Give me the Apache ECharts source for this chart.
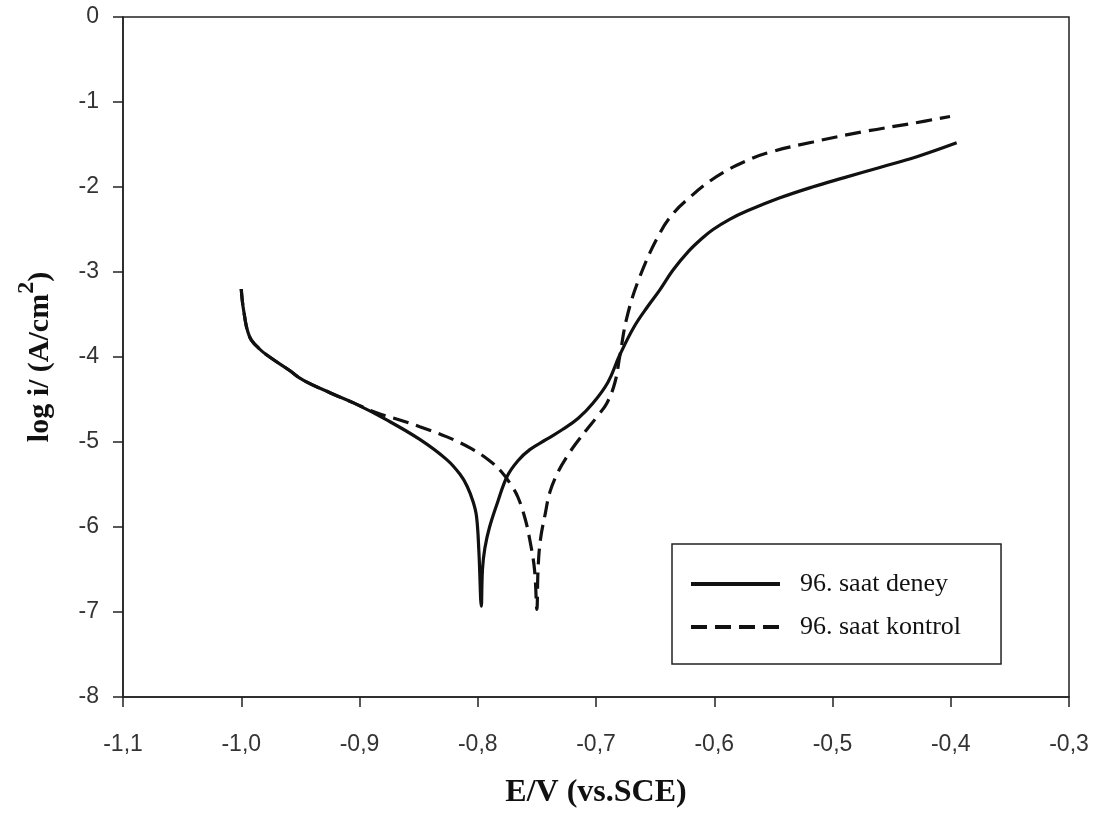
<!DOCTYPE html>
<html>
<head>
<meta charset="utf-8">
<script src="https://cdn.jsdelivr.net/npm/echarts@6/dist/echarts.min.js"></script>
<style>
  html, body { margin: 0; padding: 0; background: #fff; }
  #chart { width: 1098px; height: 814px; }
</style>
</head>
<body>
<div id="chart"></div>
<script>
// Polarization curves: potential E (V vs. SCE) against log current density
const deneyE = [-1.000, -0.998, -0.993, -0.985, -0.976, -0.960, -0.948, -0.925, -0.905, -0.877,
  -0.849, -0.826, -0.815, -0.809, -0.804, -0.801, -0.799, -0.797,
  -0.796, -0.794, -0.790, -0.783, -0.775, -0.766, -0.756, -0.742, -0.728, -0.715, -0.703, -0.690,
  -0.680, -0.668, -0.656, -0.646, -0.635, -0.622, -0.610, -0.601, -0.587, -0.572, -0.545, -0.517,
  -0.490, -0.460, -0.430, -0.395];
const deneyLogI = [-3.20, -3.45, -3.76, -3.90, -4.00, -4.15, -4.27, -4.42, -4.54, -4.74,
  -4.97, -5.21, -5.38, -5.52, -5.70, -5.88, -6.30, -6.93,
  -6.50, -6.25, -6.00, -5.70, -5.40, -5.22, -5.09, -4.97, -4.85, -4.72, -4.55, -4.30,
  -3.98, -3.65, -3.40, -3.21, -2.98, -2.76, -2.60, -2.50, -2.38, -2.28, -2.13, -2.00,
  -1.89, -1.77, -1.65, -1.48];

const kontrolE = [-1.000, -0.998, -0.993, -0.985, -0.976, -0.960, -0.948, -0.925, -0.905, -0.885,
  -0.866, -0.849, -0.826, -0.805, -0.790, -0.780, -0.772, -0.766, -0.760, -0.756, -0.752, -0.750,
  -0.749, -0.747, -0.743, -0.739, -0.732, -0.7245, -0.716, -0.7076, -0.699, -0.6907, -0.684, -0.680,
  -0.6738, -0.6628, -0.6459, -0.634, -0.6205, -0.6076, -0.5926, -0.574, -0.5554, -0.5165, -0.4742,
  -0.432, -0.4006];
const kontrolLogI = [-3.20, -3.45, -3.76, -3.90, -4.00, -4.15, -4.27, -4.42, -4.54, -4.66,
  -4.74, -4.82, -4.94, -5.08, -5.22, -5.35, -5.50, -5.65, -5.90, -6.15, -6.50, -6.97,
  -6.50, -6.15, -5.85, -5.59, -5.35, -5.17, -5.00, -4.85, -4.70, -4.54, -4.30, -4.00,
  -3.53, -3.05, -2.54, -2.30, -2.12, -1.97, -1.83, -1.70, -1.60, -1.47, -1.35,
  -1.25, -1.17];

const seriesNames = ['96. saat deney', '96. saat kontrol'];
const xTitle = 'E/V (vs.SCE)';

const zip = (xs, ys) => xs.map((x, i) => [x, ys[i]]);

const chart = echarts.init(document.getElementById('chart'), null, { renderer: 'canvas' });

const tickFont = { fontFamily: '"Liberation Sans", Arial, sans-serif', fontSize: 23, color: '#333' };
const serif = '"Liberation Serif", "Times New Roman", serif';
const lineColor = '#111';

chart.setOption({
  animation: false,
  backgroundColor: '#fff',
  grid: {
    left: 123, right: 29, top: 17, bottom: 116,
    show: true, borderColor: '#222', borderWidth: 1.5, backgroundColor: 'transparent'
  },
  xAxis: {
    type: 'value', min: -1.1, max: -0.3, interval: 0.1,
    name: xTitle, nameLocation: 'middle', nameGap: 80,
    nameTextStyle: { fontFamily: serif, fontWeight: 'bold', fontSize: 32, color: '#111' },
    axisLine: { show: true, onZero: false, lineStyle: { color: '#222', width: 1.5 } },
    axisTick: { show: true, inside: false, length: 10, lineStyle: { color: '#222', width: 1.5 } },
    axisLabel: Object.assign({ margin: 36, formatter: v => v.toFixed(1).replace('.', ',') }, tickFont),
    splitLine: { show: false }
  },
  yAxis: {
    type: 'value', min: -8, max: 0, interval: 1,
    name: '{a|log i/ (A/cm}{s|2}{a|)}', nameLocation: 'middle', nameGap: 68,
    nameTextStyle: {
      rich: {
        a: { fontFamily: serif, fontWeight: 'bold', fontSize: 30, color: '#111', lineHeight: 40, verticalAlign: 'bottom' },
        s: { fontFamily: serif, fontWeight: 'bold', fontSize: 24, color: '#111', lineHeight: 40, verticalAlign: 'top' }
      }
    },
    axisLine: { show: true, onZero: false, lineStyle: { color: '#222', width: 1.5 } },
    axisTick: { show: true, inside: false, length: 10, lineStyle: { color: '#222', width: 1.5 } },
    axisLabel: Object.assign({ margin: 24, formatter: v => String(v) }, tickFont),
    splitLine: { show: false }
  },
  legend: {
    orient: 'vertical',
    left: 672, top: 544,
    padding: [27, 40, 24, 17],
    itemGap: 17,
    itemWidth: 89, itemHeight: 20,
    borderColor: '#222', borderWidth: 1.5, backgroundColor: '#fff',
    lineStyle: { width: 4 },
    itemStyle: { opacity: 0, color: 'transparent', borderWidth: 0 },
    textStyle: { fontFamily: serif, fontSize: 26, color: '#111', padding: [0, 0, 0, 15] },
    data: seriesNames
  },
  series: [
    {
      name: seriesNames[0], type: 'line', data: zip(deneyE, deneyLogI),
      symbol: 'none', smooth: 0.4,
      lineStyle: { color: lineColor, width: 3.2, type: 'solid' },
      itemStyle: { color: lineColor }
    },
    {
      name: seriesNames[1], type: 'line', data: zip(kontrolE, kontrolLogI),
      symbol: 'none', smooth: 0.4,
      lineStyle: { color: lineColor, width: 3.2, type: [16, 8] },
      itemStyle: { color: lineColor }
    }
  ]
});
</script>
</body>
</html>
